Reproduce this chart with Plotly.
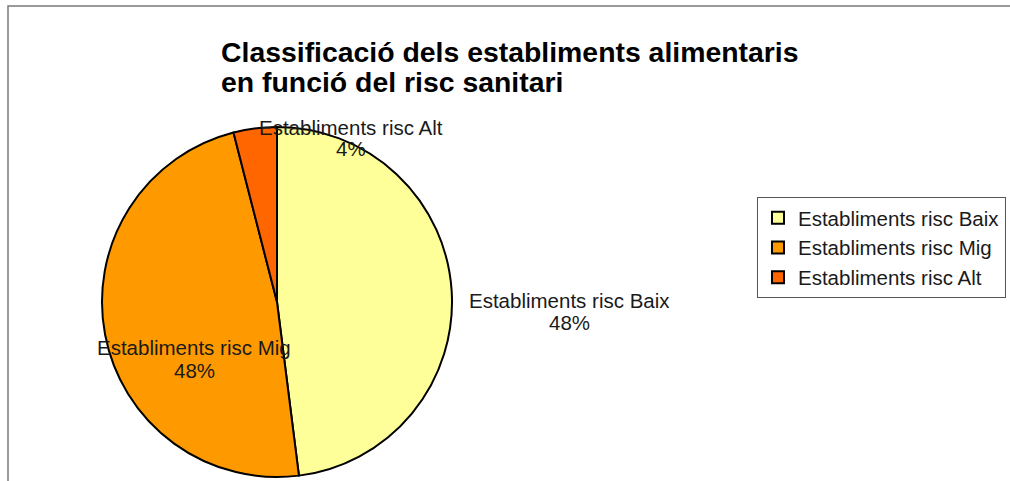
import plotly.graph_objects as go

# chart data
labels = ["Establiments risc Baix", "Establiments risc Mig", "Establiments risc Alt"]
values = [48, 48, 4]
colors = ["#FFFF99", "#FF9900", "#FF6600"]
title_lines = ["Classificació dels establiments alimentaris", "en funció del risc sanitari"]

W, H = 1010, 481


def px(x):
    return x / W


def py(y):
    return 1 - y / H


# slice label centres (pixels from top-left): name line, percent line
_label_pos = [(569, 300, 322), (194, 347, 370), (351, 127, 148)]

fig = go.Figure(go.Pie(
    labels=labels, values=values,
    sort=False, direction="clockwise", rotation=0,
    marker=dict(colors=colors, line=dict(color="#000000", width=2)),
    textinfo="none", hoverinfo="label+percent",
    domain=dict(x=[px(102), px(452)], y=[4 / H, 354 / H]),
))

total = sum(values)
for (lx, y1, y2), lab, v in zip(_label_pos, labels, values):
    for txt, yy in ((lab, y1), (f"{round(100 * v / total)}%", y2)):
        fig.add_annotation(
            x=px(lx), y=py(yy), xref="paper", yref="paper",
            text=txt, showarrow=False, xanchor="center", yanchor="middle",
            font=dict(size=20.5, color="#1a1a1a"),
        )

for i, line in enumerate(title_lines):
    fig.add_annotation(
        x=px(219), y=py(52 + 30 * i), xref="paper", yref="paper",
        text=f"<b>{line}</b>", showarrow=False,
        xanchor="left", yanchor="middle", align="left",
        font=dict(size=28.4, color="#000000"),
    )

# outer frame of the chart area
fig.add_shape(type="rect", xref="paper", yref="paper",
              x0=px(8), x1=1.02, y0=-0.02, y1=py(6),
              line=dict(color="#7a7a7a", width=1.5), fillcolor="rgba(0,0,0,0)")

fig.update_layout(
    width=W, height=H,
    margin=dict(l=0, r=0, t=0, b=0),
    paper_bgcolor="white", plot_bgcolor="white",
    font=dict(family="Liberation Sans, Arial, sans-serif", size=20.5, color="#1a1a1a"),
    showlegend=True,
    legend=dict(x=px(757), y=py(197), xanchor="left", yanchor="top",
                bordercolor="#555555", borderwidth=1, bgcolor="white",
                font=dict(size=20.5), traceorder="normal", itemwidth=30),
)

fig.write_html("out.html", config={"displayModeBar": False},
               post_script="document.body.style.margin='0';")
